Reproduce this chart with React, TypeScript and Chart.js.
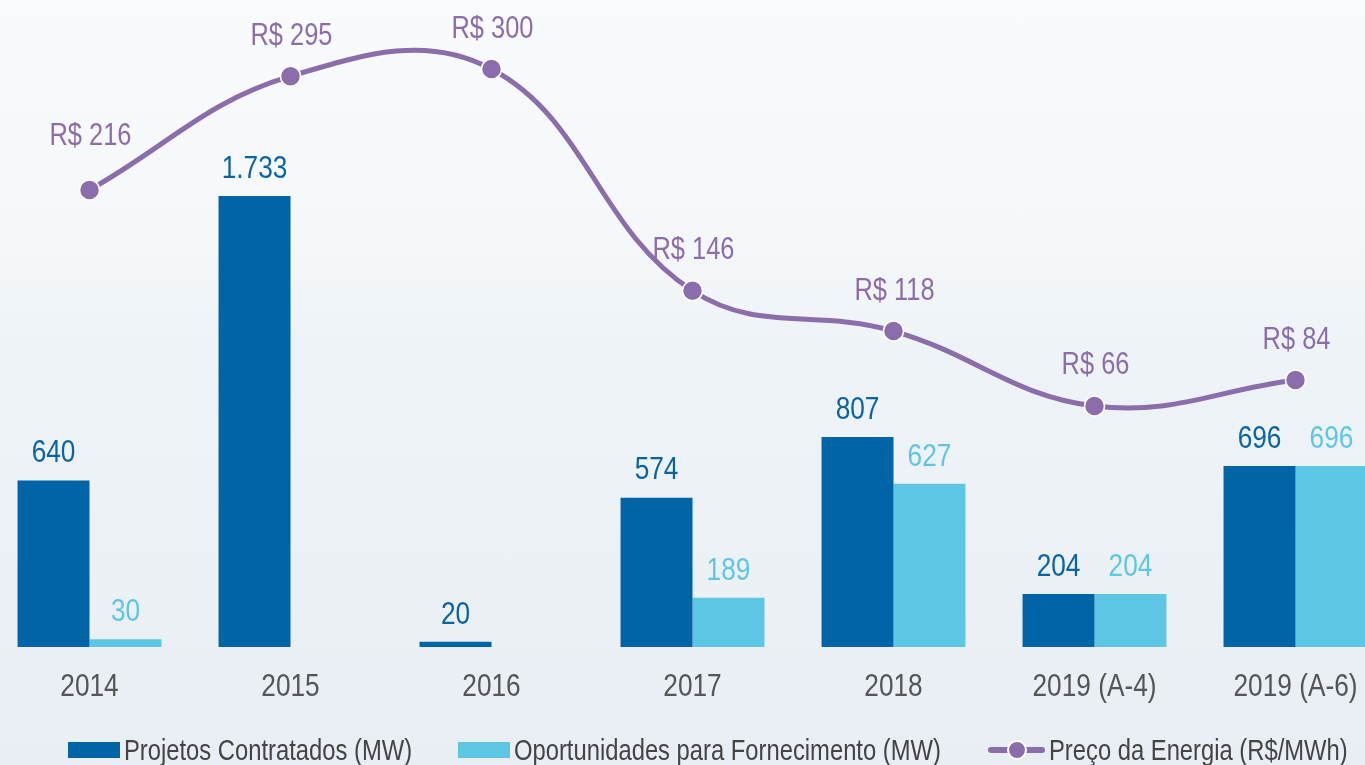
import React, { useEffect, useRef } from "react";
import { Chart, registerables } from "chart.js";

Chart.register(...registerables);

const categories = ["2014", "2015", "2016", "2017", "2018", "2019 (A-4)", "2019 (A-6)"];
const projetosContratados = [640, 1733, 20, 574, 807, 204, 696];
const oportunidadesFornecimento: (number | null)[] = [30, null, null, 189, 627, 204, 696];
const precoEnergia = [216, 295, 300, 146, 118, 66, 84];

const legendLabels = [
  "Projetos Contratados (MW)",
  "Oportunidades para Fornecimento (MW)",
  "Preço da Energia (R$/MWh)",
];

const DARK = "#0064a6";
const LIGHT = "#5ec6e5";
const PURPLE = "#8c6dac";
const FONT = "'Liberation Sans', Arial, sans-serif";
const SQUEEZE = 0.82;

function fmtThousands(v: number): string {
  const s = String(Math.round(v));
  return s.replace(/\B(?=(\d{3})+(?!\d))/g, ".");
}

function narrowText(ctx: CanvasRenderingContext2D, text: string, x: number, y: number) {
  ctx.save();
  ctx.translate(x, y);
  ctx.scale(SQUEEZE, 1);
  ctx.fillText(text, 0, 0);
  ctx.restore();
}

const labelPlugin = {
  id: "valueLabels",
  afterDatasetsDraw(chart: any) {
    const ctx = chart.ctx;
    ctx.save();
    ctx.textAlign = "center";
    ctx.textBaseline = "middle";
    chart.data.datasets.forEach((ds: any, i: number) => {
      const meta = chart.getDatasetMeta(i);
      meta.data.forEach((el: any, j: number) => {
        const v = ds.data[j];
        if (v == null) return;
        if (ds.type === "line") {
          ctx.font = `31px ${FONT}`;
          ctx.fillStyle = PURPLE;
          const off = j === 0 ? 53 : 40;
          narrowText(ctx, "R$ " + v, el.x + 1, el.y - off);
        } else {
          ctx.font = `32px ${FONT}`;
          ctx.fillStyle = ds.labelColor;
          narrowText(ctx, fmtThousands(v), el.x, el.y - 27);
        }
      });
    });
    // category labels
    const xs = chart.scales.x;
    ctx.font = `32px ${FONT}`;
    ctx.fillStyle = "#555555";
    chart.data.labels.forEach((lab: string, i: number) => {
      narrowText(ctx, lab, xs.getPixelForTick(i), 687);
    });
    ctx.restore();
  },
};

export default function App() {
  const ref = useRef<HTMLCanvasElement | null>(null);

  useEffect(() => {
    if (!ref.current) return;
    const chart = new Chart(ref.current, {
      type: "bar",
      data: {
        labels: categories,
        datasets: [
          {
            type: "line",
            label: legendLabels[2],
            data: precoEnergia,
            yAxisID: "y2",
            borderColor: PURPLE,
            borderWidth: 5,
            tension: 0.4,
            pointRadius: 10,
            pointBackgroundColor: PURPLE,
            pointBorderColor: "#ffffff",
            pointBorderWidth: 1.5,
            order: 0,
            clip: false,
          } as any,
          {
            type: "bar",
            label: legendLabels[0],
            data: projetosContratados,
            backgroundColor: DARK,
            yAxisID: "y",
            categoryPercentage: 0.716,
            barPercentage: 1,
            order: 1,
            labelColor: "#0a63a3",
          } as any,
          {
            type: "bar",
            label: legendLabels[1],
            data: oportunidadesFornecimento,
            backgroundColor: LIGHT,
            yAxisID: "y",
            categoryPercentage: 0.716,
            barPercentage: 1,
            order: 1,
            labelColor: "#5ec6e5",
          } as any,
        ],
      },
      options: {
        responsive: false,
        animation: false,
        layout: { padding: 0, autoPadding: false },
        plugins: {
          legend: { display: false },
          tooltip: { enabled: false },
        },
        scales: {
          x: {
            grid: { display: false, drawTicks: false },
            border: { display: false },
            ticks: { display: false },
            afterFit(axis: any) {
              axis.height = 118;
              axis.paddingLeft = 0;
              axis.paddingRight = 0;
            },
          },
          y: {
            display: false,
            min: 0,
            max: 2486.5,
          },
          y2: {
            display: false,
            min: -101.4,
            max: 347.9,
          },
        },
      } as any,
      plugins: [labelPlugin],
    });
    return () => chart.destroy();
  }, []);

  const legendItem = (left: number, marker: React.ReactNode, text: string) => (
    <div
      style={{
        position: "absolute",
        left,
        top: 730,
        height: 40,
        display: "flex",
        alignItems: "center",
        fontFamily: FONT,
        fontSize: 29,
        color: "#444444",
        whiteSpace: "nowrap",
      }}
    >
      {marker}
      <span
        style={{
          marginLeft: 4,
          display: "inline-block",
          transform: `scaleX(${SQUEEZE})`,
          transformOrigin: "left center",
        }}
      >
        {text}
      </span>
    </div>
  );

  return (
    <div
      style={{
        position: "fixed",
        left: 0,
        top: 0,
        width: 1365,
        height: 765,
        overflow: "hidden",
        background:
          "linear-gradient(180deg, #f8fafc 0%, #f5f8fa 30%, #eef3f7 45%, #edf2f6 60%, #e8eef3 100%)",
      }}
    >
      <canvas
        ref={ref}
        width={1407}
        height={765}
        style={{ position: "absolute", left: -11.5, top: 0, width: 1407, height: 765 }}
      />
      {legendItem(68, <div style={{ width: 52, height: 16, background: DARK }} />, legendLabels[0])}
      {legendItem(458, <div style={{ width: 52, height: 16, background: LIGHT }} />, legendLabels[1])}
      {legendItem(
        988,
        <div style={{ position: "relative", width: 57, height: 20 }}>
          <div style={{ position: "absolute", left: 0, top: 7, width: 57, height: 6, borderRadius: 3, background: PURPLE }} />
          <div
            style={{
              position: "absolute",
              left: 19,
              top: 0,
              width: 16,
              height: 16,
              borderRadius: "50%",
              background: PURPLE,
              border: "2px solid #ffffff",
            }}
          />
        </div>,
        legendLabels[2]
      )}
    </div>
  );
}
